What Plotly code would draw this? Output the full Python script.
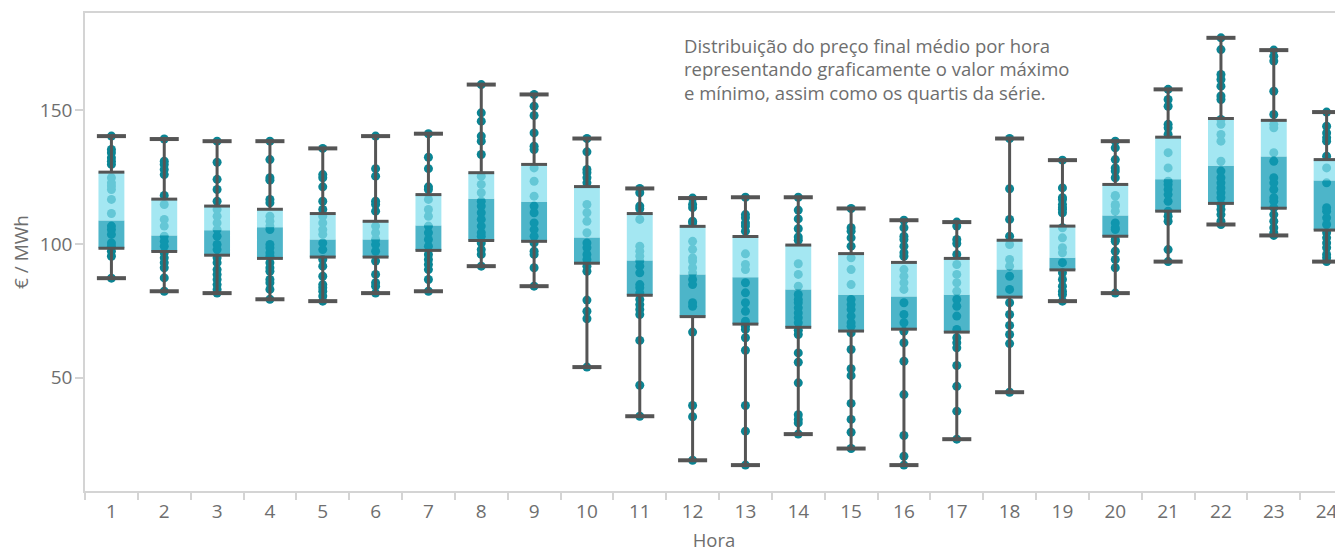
import plotly.graph_objects as go

hours = list(range(1, 25))

mins    = [87.2, 82.3, 81.6, 79.3, 78.6, 81.6, 82.3, 91.7, 84.2, 53.9, 35.5, 19.0,
           17.2, 28.8, 23.4, 17.2, 26.9, 44.5, 78.6, 81.6, 93.4, 107.3, 103.2, 93.4]
q1s     = [98.4, 97.2, 95.8, 94.6, 95.1, 95.1, 97.6, 101.3, 101.0, 92.8, 80.8, 72.8,
           70.0, 68.8, 67.4, 68.1, 67.0, 80.1, 90.3, 102.9, 112.3, 115.2, 113.4, 105.2]
medians = [108.8, 103.2, 105.1, 106.3, 101.7, 101.7, 106.9, 116.9, 115.8, 102.4, 93.8, 88.6,
           87.5, 83.0, 81.0, 80.3, 81.0, 90.4, 94.8, 110.7, 124.2, 129.3, 132.8, 123.8]
q3s     = [126.9, 116.8, 114.2, 113.0, 111.4, 108.5, 118.5, 126.7, 129.8, 121.5, 111.4, 106.6,
           102.8, 99.6, 96.4, 93.1, 94.6, 101.4, 106.7, 122.3, 140.0, 147.0, 146.3, 131.6]
maxs    = [140.4, 139.3, 138.5, 138.5, 135.8, 140.4, 141.3, 159.7, 156.0, 139.5, 120.8, 117.2,
           117.5, 117.5, 113.3, 108.9, 108.2, 139.5, 131.4, 138.5, 157.9, 177.2, 172.6, 149.4]

dots_h01 = [140.4, 135.4, 134.2, 132.3, 131.0, 129.8, 124.8, 122.9, 121.7, 120.4, 116.7, 111.4, 106.7, 105.4, 103.6, 100.4, 99.2, 97.3, 95.4, 87.2]
dots_h02 = [139.3, 131.0, 129.8, 127.9, 126.0, 118.2, 114.8, 109.2, 106.7, 102.9, 101.0, 99.2, 96.7, 94.8, 93.0, 91.1, 87.3, 82.3]
dots_h03 = [138.5, 130.6, 124.2, 120.4, 116.0, 112.9, 110.4, 107.9, 105.4, 102.9, 99.8, 97.9, 94.8, 93.0, 90.4, 88.6, 86.7, 84.8, 83.0, 81.6]
dots_h04 = [138.5, 131.6, 124.8, 123.9, 116.7, 115.4, 110.4, 108.5, 106.7, 105.4, 99.8, 98.6, 96.7, 95.4, 93.0, 91.1, 89.8, 86.7, 85.5, 83.0, 79.3]
dots_h05 = [135.8, 126.0, 124.8, 121.4, 116.0, 112.9, 110.4, 107.9, 105.4, 103.6, 100.4, 97.9, 94.2, 91.7, 87.9, 84.8, 83.6, 82.3, 80.5, 78.6]
dots_h06 = [140.4, 128.2, 125.4, 116.0, 114.8, 112.3, 106.7, 104.2, 101.7, 99.8, 97.3, 93.6, 88.6, 85.5, 84.2, 81.6]
dots_h07 = [141.3, 132.5, 128.2, 121.4, 120.4, 116.7, 112.9, 110.4, 106.7, 104.2, 101.7, 99.2, 96.1, 94.2, 92.3, 90.4, 86.7, 82.3]
dots_h08 = [159.7, 149.1, 146.0, 140.4, 138.5, 133.5, 125.4, 122.3, 119.2, 116.0, 114.2, 111.7, 109.2, 106.7, 104.2, 102.9, 100.4, 97.9, 96.1, 91.7]
dots_h09 = [156.0, 151.6, 148.1, 141.6, 136.6, 135.4, 128.5, 123.5, 117.9, 114.2, 111.7, 107.9, 105.4, 102.9, 100.4, 97.3, 96.1, 91.1, 84.2]
dots_h10 = [139.5, 134.5, 127.9, 126.7, 124.8, 122.9, 114.8, 111.7, 108.5, 104.2, 100.4, 98.6, 96.1, 94.2, 91.7, 89.8, 79.0, 74.8, 72.0, 53.9]
dots_h11 = [120.8, 119.2, 114.2, 113.2, 109.2, 99.2, 97.3, 95.4, 93.6, 91.7, 89.2, 84.8, 83.6, 81.7, 79.2, 77.3, 75.5, 73.6, 63.9, 47.1, 35.5]
dots_h12 = [117.2, 114.8, 113.6, 108.5, 107.9, 101.0, 98.0, 94.8, 93.6, 91.1, 89.2, 86.7, 84.8, 78.0, 76.7, 67.0, 39.5, 35.3, 19.0]
dots_h13 = [117.5, 111.0, 109.8, 107.9, 106.7, 104.8, 96.3, 92.3, 90.4, 85.5, 81.7, 78.0, 74.8, 71.1, 69.2, 68.0, 64.9, 60.2, 39.5, 29.9, 17.2]
dots_h14 = [117.5, 112.7, 109.4, 105.7, 102.6, 101.4, 92.6, 88.6, 84.2, 81.1, 79.2, 78.0, 76.1, 74.2, 72.4, 70.5, 67.7, 66.1, 59.2, 55.7, 48.0, 36.1, 34.3, 33.0, 28.8]
dots_h15 = [113.3, 106.1, 104.8, 102.3, 99.2, 94.8, 90.4, 84.8, 79.2, 77.3, 75.5, 73.0, 70.5, 69.2, 66.7, 60.5, 53.3, 50.7, 40.3, 34.3, 29.5, 23.4]
dots_h16 = [108.9, 106.1, 102.9, 101.7, 99.2, 96.7, 95.4, 90.4, 87.9, 85.5, 83.0, 78.0, 73.6, 70.5, 67.3, 63.0, 56.1, 43.6, 28.3, 20.5, 17.2]
dots_h17 = [108.2, 106.7, 101.7, 100.2, 96.1, 92.3, 88.6, 85.5, 82.3, 79.2, 76.7, 73.0, 68.0, 64.9, 63.0, 61.1, 54.5, 46.7, 37.4, 26.9]
dots_h18 = [139.5, 120.7, 109.2, 102.9, 99.8, 94.2, 91.7, 87.9, 83.0, 78.0, 73.6, 69.5, 66.1, 62.7, 44.5]
dots_h19 = [131.4, 121.0, 117.3, 116.7, 114.8, 113.6, 112.9, 111.7, 106.1, 102.3, 98.6, 96.7, 93.0, 89.2, 86.7, 84.2, 82.3, 81.1, 78.6]
dots_h20 = [138.5, 136.0, 131.6, 128.5, 127.3, 124.8, 118.2, 117.9, 114.8, 114.2, 112.3, 107.9, 106.1, 105.4, 101.7, 101.0, 97.3, 94.2, 91.1, 81.6]
dots_h21 = [157.9, 154.1, 151.6, 144.8, 143.5, 141.0, 134.2, 128.5, 123.5, 122.3, 120.4, 118.5, 116.0, 112.3, 110.4, 108.5, 97.9, 93.4]
dots_h22 = [177.2, 172.8, 163.5, 161.6, 159.1, 155.4, 154.1, 146.6, 144.8, 141.0, 138.5, 131.0, 127.3, 124.8, 122.9, 121.0, 119.2, 117.3, 114.8, 112.9, 111.0, 108.5, 107.3]
dots_h23 = [172.6, 170.3, 168.5, 157.2, 148.5, 144.8, 143.5, 134.2, 131.0, 124.8, 122.9, 120.4, 117.3, 116.0, 113.6, 111.0, 108.5, 106.1, 104.2, 103.2]
dots_h24 = [149.4, 144.1, 141.6, 139.8, 138.5, 132.9, 128.5, 122.9, 113.6, 112.3, 109.8, 107.3, 104.2, 102.3, 100.4, 98.6, 96.1, 94.8, 93.4]

all_dots = [dots_h01, dots_h02, dots_h03, dots_h04, dots_h05, dots_h06, dots_h07, dots_h08,
            dots_h09, dots_h10, dots_h11, dots_h12, dots_h13, dots_h14, dots_h15, dots_h16,
            dots_h17, dots_h18, dots_h19, dots_h20, dots_h21, dots_h22, dots_h23, dots_h24]

note_lines = ["Distribuição do preço final médio por hora",
              "representando graficamente o valor máximo",
              "e mínimo, assim como os quartis da série."]

FONT = "Open Sans"
GRAY_TXT = "#6e6e6e"
AX = "#d4d4d4"
W = 0.245  # half box width in category units

fig = go.Figure()

# dots
dx, dy = [], []
for h, vals in zip(hours, all_dots):
    dx += [h] * len(vals)
    dy += vals
fig.add_trace(go.Scatter(x=dx, y=dy, mode="markers",
                         marker=dict(size=9, color="#0a8594", line=dict(width=0)),
                         hoverinfo="y", showlegend=False))

def rects(lo, hi):
    xs, ys = [], []
    for h, a, b in zip(hours, lo, hi):
        xs += [h - W, h + W, h + W, h - W, h - W, None]
        ys += [a, a, b, b, a, None]
    return xs, ys

# lower box (Q1-median)
xs, ys = rects(q1s, medians)
fig.add_trace(go.Scatter(x=xs, y=ys, mode="lines", fill="toself",
                         fillcolor="rgba(18,156,183,0.75)", line=dict(width=0),
                         hoverinfo="skip", showlegend=False))
# upper box (median-Q3)
xs, ys = rects(medians, q3s)
fig.add_trace(go.Scatter(x=xs, y=ys, mode="lines", fill="toself",
                         fillcolor="rgba(132,223,238,0.74)", line=dict(width=0),
                         hoverinfo="skip", showlegend=False))

# whiskers
wx, wy = [], []
for h, mn, a, b, mx in zip(hours, mins, q1s, q3s, maxs):
    wx += [h, h, None, h, h, None]
    wy += [mn, a, None, b, mx, None]
fig.add_trace(go.Scatter(x=wx, y=wy, mode="lines",
                         line=dict(color="#555555", width=3),
                         hoverinfo="skip", showlegend=False))

# quartile edges
cx, cy = [], []
for h, a, b in zip(hours, q1s, q3s):
    cx += [h - W, h + W, None, h - W, h + W, None]
    cy += [a, a, None, b, b, None]
fig.add_trace(go.Scatter(x=cx, y=cy, mode="lines",
                         line=dict(color="#555555", width=3),
                         hoverinfo="skip", showlegend=False))
# min/max caps
cx, cy = [], []
for h, mn, mx in zip(hours, mins, maxs):
    cx += [h - W - 0.03, h + W + 0.03, None, h - W - 0.03, h + W + 0.03, None]
    cy += [mn, mn, None, mx, mx, None]
fig.add_trace(go.Scatter(x=cx, y=cy, mode="lines",
                         line=dict(color="#555555", width=4),
                         hoverinfo="skip", showlegend=False))

note_y = [0.9320, 0.8833, 0.8347]
for t, yy in zip(note_lines, note_y):
    fig.add_annotation(text=t, xref="paper", yref="paper",
                       x=0.4746, y=yy, xanchor="left", yanchor="middle",
                       showarrow=False, align="left",
                       font=dict(family=FONT, size=18.5, color=GRAY_TXT))

fig.update_layout(
    width=1335, height=548,
    margin=dict(l=77, r=0, t=5, b=65),
    paper_bgcolor="white", plot_bgcolor="white",
    font=dict(family=FONT, color=GRAY_TXT),
    showlegend=False,
    xaxis=dict(range=[0.5, 24.31], tickmode="array", tickvals=hours,
               ticktext=[str(h) for h in hours], ticks="outside", ticklen=2,
               tickcolor="rgba(0,0,0,0)", showgrid=False, zeroline=False,
               showline=True, linecolor=AX, linewidth=1.5, mirror=True,
               tickfont=dict(size=19, color=GRAY_TXT),
               minor=dict(tickmode="array", tickvals=[h - 0.5 for h in hours] + [24.5],
                          ticks="outside", ticklen=7, tickcolor=AX, tickwidth=1.5, showgrid=False),
               title=dict(text="Hora", font=dict(size=18.5, color=GRAY_TXT), standoff=12)),
    yaxis=dict(range=[7.5, 186.5], tickmode="array", tickvals=[50, 100, 150],
               ticks="outside", ticklen=8, tickcolor=AX, tickwidth=1.5,
               showgrid=False, zeroline=False, showline=True, linecolor=AX, linewidth=1.5,
               tickfont=dict(size=19, color=GRAY_TXT), ticklabelstandoff=-1,
               title=dict(text="€ / MWh", font=dict(size=19, color=GRAY_TXT), standoff=12)),
)

fig.write_html("out.html")
